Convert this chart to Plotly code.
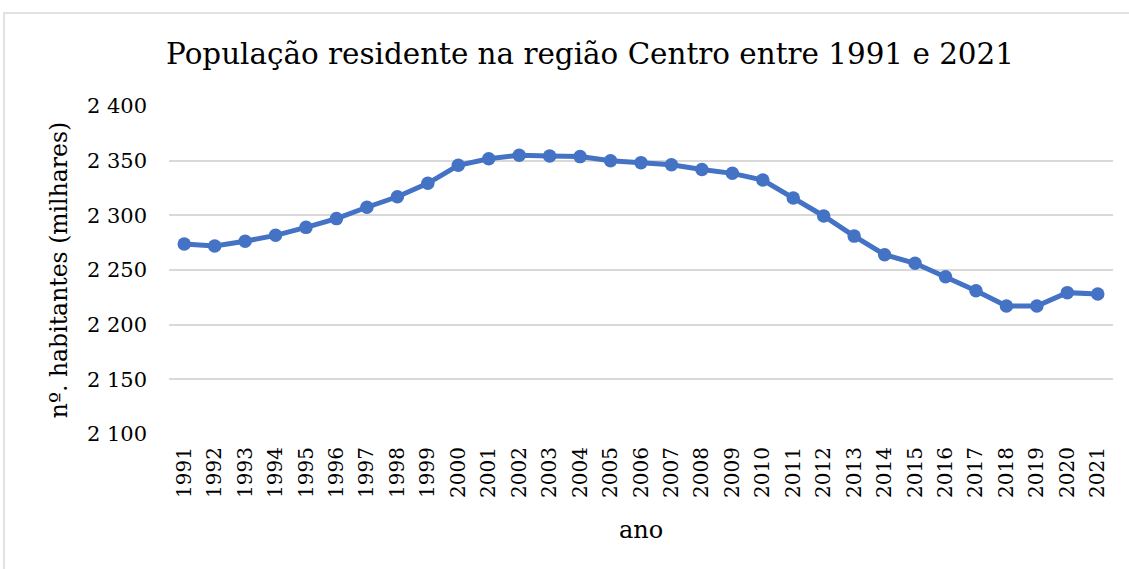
import plotly.graph_objects as go

anos = [str(a) for a in range(1991, 2022)]
populacao = [2273.8, 2272.0, 2276.3, 2281.7, 2289.0, 2297.0, 2307.4, 2317.0, 2329.3, 2345.8,
             2351.8, 2354.9, 2354.3, 2353.7, 2350.0, 2348.2, 2346.3, 2342.0, 2338.4, 2332.3,
             2315.9, 2299.4, 2281.0, 2264.0, 2256.1, 2243.9, 2231.1, 2217.0, 2217.0, 2229.3,
             2228.1]

W, H = 1129, 569
L, R, T, B = 169, 16, 106, 135
pw, ph = W - L - R, H - T - B
FONT = "DejaVu Serif"

fig = go.Figure(go.Scatter(
    x=anos, y=populacao, mode="lines+markers",
    line=dict(color="#4472C4", width=5),
    marker=dict(color="#4472C4", size=13.5),
))

def px_x(x):
    return (x - L) / pw

def px_y(y):
    return (H - B - y) / ph

fig.update_layout(
    width=W, height=H,
    margin=dict(l=L, r=R, t=T, b=B),
    paper_bgcolor="white", plot_bgcolor="white",
    separators=", ",
    showlegend=False,
    font=dict(family=FONT, color="#000000"),
    title=dict(text="População residente na região Centro entre 1991 e 2021",
               x=590 / W, xanchor="center", y=1 - 54 / H, yanchor="middle",
               font=dict(family=FONT, size=29.4, color="#000000")),
    xaxis=dict(type="category", range=[-0.5, len(anos) - 0.5],
               showgrid=False, showline=False, ticks="",
               tickangle=-90, tickfont=dict(size=20, family=FONT),
               ticklabelstandoff=8,
               title=dict(text="ano", font=dict(size=24, family=FONT), standoff=24)),
    yaxis=dict(range=[2100, 2400], dtick=50, tickformat=",d",
               showgrid=True, gridcolor="#d9d9d9", gridwidth=1.5,
               zeroline=False, showline=False, ticks="",
               ticklabelstandoff=21,
               tickfont=dict(size=21, family=FONT),
               title=dict(text="nº. habitantes (milhares)", font=dict(size=23.5, family=FONT), standoff=12)),
    shapes=[dict(type="rect", xref="paper", yref="paper",
                 x0=px_x(4), x1=px_x(W + 10), y0=px_y(H + 10), y1=px_y(13),
                 line=dict(color="#d9d9d9", width=1.5), fillcolor="rgba(0,0,0,0)", layer="below")],
)

fig.write_html("out.html", config={"displayModeBar": False},
               post_script="document.body.style.margin='0px';")
